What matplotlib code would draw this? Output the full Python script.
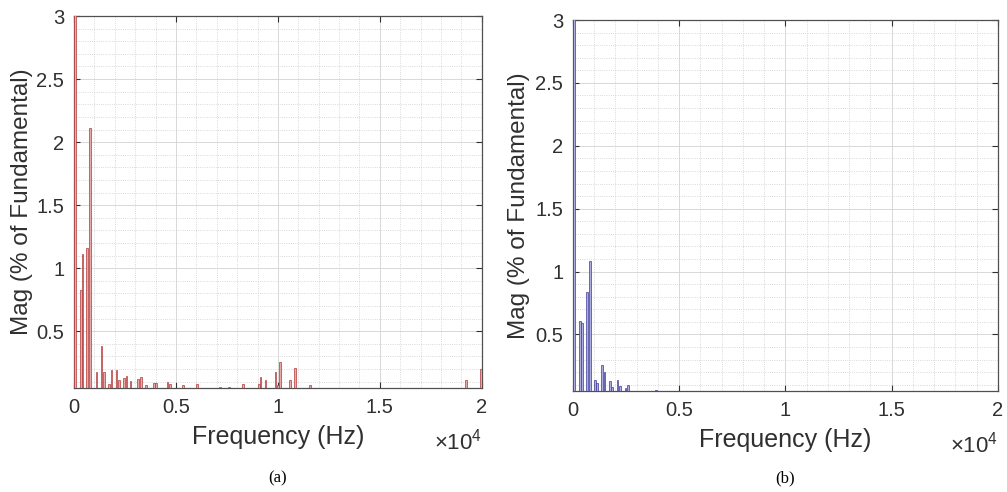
import matplotlib
matplotlib.use("Agg")
import matplotlib.pyplot as plt
from matplotlib.ticker import MultipleLocator, FuncFormatter

plt.rcParams['font.family'] = ['Liberation Sans', 'DejaVu Sans']
plt.rcParams['mathtext.fontset'] = 'custom'
plt.rcParams['mathtext.rm'] = 'Liberation Sans'

# spectrum (a): frequency in Hz, magnitude in % of fundamental
freq_a = [50, 330, 425, 650, 785, 1110, 1355, 1470, 1730, 1845, 2090, 2220,
          2450, 2580, 2775, 3150, 3285, 3530, 3920, 4035, 4590, 4705, 5330,
          6045, 7155, 7615, 8300, 9070, 9150, 9395, 9885, 10000, 10100, 10590,
          10835, 11565, 19215, 19950]
mag_a = [100, 0.83, 1.11, 1.16, 2.11, 0.18, 0.38, 0.18, 0.08, 0.19, 0.195, 0.11,
         0.13, 0.145, 0.105, 0.12, 0.14, 0.07, 0.09, 0.09, 0.10, 0.08, 0.075,
         0.08, 0.06, 0.06, 0.08, 0.085, 0.14, 0.11, 0.175, 0.075, 0.26, 0.115,
         0.21, 0.07, 0.115, 0.20]

# spectrum (b)
freq_b = [50, 330, 425, 660, 785, 1020, 1130, 1365, 1490, 1740, 1850, 2100,
          2210, 2465, 2575, 3905]
mag_b = [100, 0.61, 0.59, 0.84, 1.08, 0.135, 0.11, 0.26, 0.20, 0.13, 0.08, 0.14,
         0.09, 0.07, 0.10, 0.06]

x_ticks = [0, 5000, 10000, 15000, 20000]
y_ticks = [0.5, 1, 1.5, 2, 2.5, 3]

fig = plt.figure(figsize=(10.07, 4.92), dpi=100)
ax_a = fig.add_axes([0.0735, 0.2114, 0.405, 0.756])
ax_b = fig.add_axes([0.569, 0.2053, 0.422, 0.754])

axis_col = '#303030'


def draw_panel(ax, freqs, mags, face, edge, caption, ylab_x):
    ax.bar(freqs, mags, width=80, color=face, edgecolor=edge, linewidth=0.5,
           zorder=3)
    ax.set_xlim(0, 20000)
    ax.set_ylim(0.05, 3)
    ax.set_xticks(x_ticks)
    ax.set_yticks(y_ticks)
    ax.xaxis.set_minor_locator(MultipleLocator(1000))
    ax.yaxis.set_minor_locator(MultipleLocator(0.1))
    ax.xaxis.set_major_formatter(FuncFormatter(lambda v, p: '%g' % (v / 1e4)))
    ax.yaxis.set_major_formatter(FuncFormatter(lambda v, p: '%g' % v))
    ax.grid(which='major', color='#d8d8d8', linewidth=0.7, zorder=0)
    ax.grid(which='minor', color='#cccccc', linewidth=0.6, linestyle=':',
            zorder=0)
    ax.set_axisbelow(True)
    ax.tick_params(which='major', direction='in', top=True, right=True,
                   length=4, width=0.8, color=axis_col, labelcolor=axis_col,
                   labelsize=14.5, pad=7)
    ax.tick_params(which='minor', length=0)
    for s in ax.spines.values():
        s.set_color('#505050')
        s.set_linewidth(0.9)
    ax.set_xlabel('Frequency (Hz)', fontsize=18, color=axis_col, labelpad=6)
    ax.set_ylabel('Mag (% of Fundamental)', fontsize=17.5, color=axis_col)
    ax.yaxis.set_label_coords(ylab_x, 0.5)
    ax.text(1.0, -0.11, r'$\times\mathregular{10^4}$', transform=ax.transAxes,
            ha='right', va='top', fontsize=16, color=axis_col)
    pos = ax.get_position()
    fig.text(pos.x0 + pos.width / 2, 0.028, caption, ha='center',
             va='center', fontsize=12, family='Liberation Serif', color='black')


draw_panel(ax_a, freq_a, mag_a, '#e8a8a8', '#b03838', '(a)', -0.10)
draw_panel(ax_b, freq_b, mag_b, '#acacde', '#3c3c98', '(b)', -0.101)

fig.savefig('out.png', dpi=100)
